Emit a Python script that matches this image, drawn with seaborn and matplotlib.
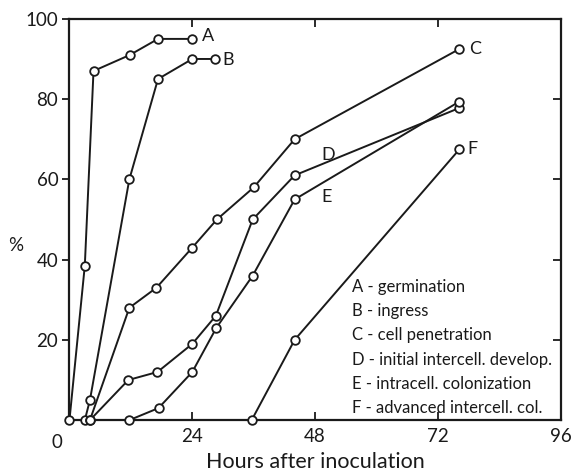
import matplotlib
matplotlib.use("Agg")
import matplotlib.pyplot as plt
import seaborn as sns
import pandas as pd

sns.set_theme(style="white")
plt.rcParams['font.family'] = ['Lato', 'DejaVu Sans']

# data
a_hours = [0, 3, 4.7, 11.8, 17.3, 24]
a_pct = [0, 38.5, 87, 91, 95, 95]
b_hours = [3, 4, 11.7, 17.3, 24, 28.5]
b_pct = [0, 5, 60, 85, 90, 90]
c_hours = [4, 11.7, 17, 24, 28.8, 36, 44, 76.2]
c_pct = [0, 28, 33, 43, 50, 58, 70, 92.5]
d_hours = [4, 11.5, 17.2, 24, 28.6, 35.8, 44, 76.2]
d_pct = [0, 10, 12, 19, 26, 50, 61, 77.8]
e_hours = [11.7, 17.4, 24, 28.7, 35.8, 44, 76.2]
e_pct = [0, 3, 12, 23, 36, 55, 79.4]
f_hours = [35.6, 44, 76.2]
f_pct = [0, 20, 67.5]

series_names = ['A', 'B', 'C', 'D', 'E', 'F']
legend_lines = ['A - germination', 'B - ingress', 'C - cell penetration',
                'D - initial intercell. develop.', 'E - intracell. colonization',
                'F - advanced intercell. col.']
x_ticks = [24, 48, 72, 96]
y_ticks = [20, 40, 60, 80, 100]

frames = []
for name, hx, py in zip(series_names,
                        [a_hours, b_hours, c_hours, d_hours, e_hours, f_hours],
                        [a_pct, b_pct, c_pct, d_pct, e_pct, f_pct]):
    frames.append(pd.DataFrame({'hours': hx, 'pct': py, 'series': name}))
df = pd.concat(frames, ignore_index=True)

fig = plt.figure(figsize=(5.74, 4.71), dpi=100)
ax = fig.add_axes([0.121, 0.108, 0.856, 0.852])

for name in series_names:
    sub = df[df['series'] == name]
    sns.lineplot(data=sub, x='hours', y='pct', ax=ax, sort=False, color='#1a1a1a',
                 linewidth=1.4, marker='o', markersize=6.2, markerfacecolor='white',
                 markeredgecolor='#1a1a1a', markeredgewidth=1.3, legend=False,
                 clip_on=False, zorder=3)

ax.set_xlim(0, 96)
ax.set_ylim(0, 100)

for sp in ax.spines.values():
    sp.set_color('#1a1a1a')
    sp.set_linewidth(1.6)
    sp.set_visible(True)

ax.set_xticks(x_ticks)
ax.set_xticklabels([str(t) for t in x_ticks])
ax.set_yticks(y_ticks)
ax.set_yticklabels([str(t) for t in y_ticks])
ax.tick_params(axis='x', direction='in', length=6, width=1.3, colors='#1a1a1a',
               labelsize=13.5, pad=6, bottom=True)
ax.tick_params(axis='y', direction='out', length=5, width=1.3, colors='#1a1a1a',
               labelsize=13.5, pad=3, left=True)

sec_y = ax.secondary_yaxis('right')
sec_y.set_yticks([20, 40, 60, 80])
sec_y.tick_params(direction='in', length=6, width=1.3, labelright=False, colors='#1a1a1a')
sec_y.spines['right'].set_visible(False)
sec_x = ax.secondary_xaxis('top')
sec_x.set_xticks([24, 48, 72])
sec_x.tick_params(direction='in', length=6, width=1.3, labeltop=False, colors='#1a1a1a')
sec_x.spines['top'].set_visible(False)

ax.set_xlabel('Hours after inoculation', fontsize=15.5, color='#1a1a1a', labelpad=5)
ax.set_ylabel('')
fig.text(0.027, 0.478, '%', fontsize=13.5, color='#1a1a1a', ha='center', va='center')
ax.text(-2.4, -3.5, '0', fontsize=13.5, color='#1a1a1a', ha='center', va='top')

# series labels
label_pos = {'A': (25.8, 95.6), 'B': (29.9, 89.8), 'C': (78.0, 92.6),
             'D': (49.2, 66.0), 'E': (49.2, 55.6), 'F': (77.8, 67.6)}
for name, (lx, ly) in label_pos.items():
    ax.text(lx, ly, name, fontsize=13, color='#1a1a1a', ha='left', va='center')

for i, line in enumerate(legend_lines):
    ax.text(55.3, 33.1 - i * 6.0, line, fontsize=12, color='#1a1a1a',
            ha='left', va='center')

fig.savefig('out.png', dpi=100)
